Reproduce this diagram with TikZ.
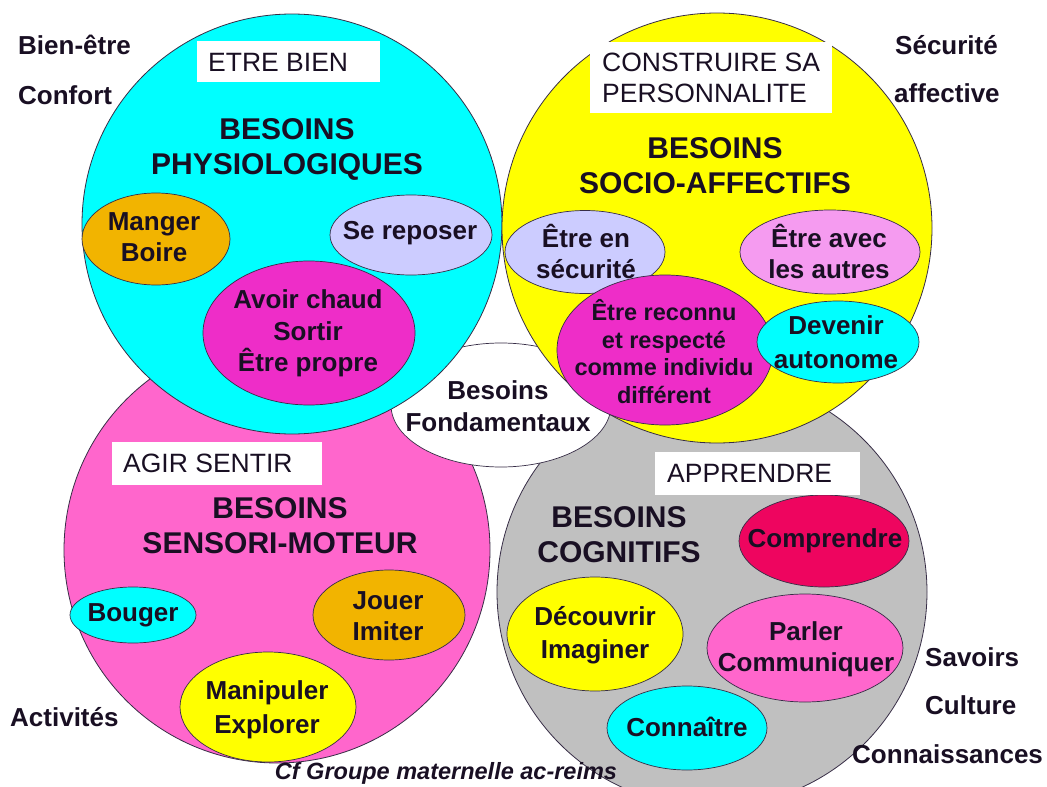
\documentclass[tikz,border=0pt]{standalone}
\usepackage{fontspec}
\setmainfont{Liberation Sans}
\usetikzlibrary{shapes.geometric}
\definecolor{cyanC}{RGB}{0,255,255}
\definecolor{yellowC}{RGB}{255,255,0}
\definecolor{pinkC}{RGB}{255,102,204}
\definecolor{grayC}{RGB}{192,192,192}
\definecolor{orangeC}{RGB}{242,180,0}
\definecolor{lavC}{RGB}{204,204,255}
\definecolor{magC}{RGB}{238,45,200}
\definecolor{orchidC}{RGB}{245,155,240}
\definecolor{crimC}{RGB}{238,5,95}
\definecolor{lineC}{RGB}{55,45,70}
\definecolor{textC}{RGB}{25,15,35}
\begin{document}
\begin{tikzpicture}[x=1pt,y=-1pt,
  bigc/.style={circle,draw=lineC,line width=0.8pt,inner sep=0pt},
  blob/.style={ellipse,draw=lineC,line width=0.7pt,inner sep=0pt},
  txt/.style={font=\bfseries\fontsize{26}{31}\selectfont,text=textC,align=center,inner sep=0pt},
  title/.style={font=\bfseries\fontsize{30}{35}\selectfont,text=textC,align=center,inner sep=0pt},
  tagbox/.style={fill=white,inner sep=0pt,anchor=north west},
  tagtxt/.style={font=\fontsize{26.5}{31}\selectfont,text=textC,align=left,anchor=west,inner sep=0pt},
  side/.style={font=\bfseries\fontsize{26}{31}\selectfont,text=textC,anchor=west,inner sep=0pt}
]
\useasboundingbox[fill=white] (0,0) rectangle (1047,787);

% lower circles
\node[bigc,fill=pinkC,minimum size=426pt] (senso) at (277,550) {};
\node[bigc,fill=grayC,minimum size=430pt] (cogn) at (712,592) {};

\node[blob,fill=cyanC,minimum width=126pt,minimum height=56pt] (bouger) at (133,615) {};
\node[blob,fill=orangeC,minimum width=152pt,minimum height=90pt] (jouer) at (389,615) {};
\node[blob,fill=yellowC,minimum width=176pt,minimum height=110pt] (manip) at (268,707) {};

\node[blob,fill=crimC,minimum width=170pt,minimum height=92pt] (compr) at (824,541) {};
\node[blob,fill=yellowC,minimum width=176pt,minimum height=114pt] (decou) at (595,634) {};
\node[blob,fill=pinkC,minimum width=196pt,minimum height=108pt] (parler) at (805,648) {};
\node[blob,fill=cyanC,minimum width=160pt,minimum height=84pt] (conn) at (687,728) {};

% centre
\node[blob,fill=white,minimum width=220pt,minimum height=124pt] (fond) at (501,405) {};

% upper circles
\node[bigc,fill=cyanC,minimum size=420pt] (phys) at (292,224) {};
\node[blob,fill=orangeC,minimum width=148pt,minimum height=92pt] (manger) at (156,239) {};
\node[blob,fill=lavC,minimum width=162pt,minimum height=80pt] (repos) at (411,235) {};
\node[blob,fill=magC,minimum width=212pt,minimum height=144pt] (avoir) at (309,333) {};

\node[bigc,fill=yellowC,minimum size=430pt] (socio) at (717,228) {};
\node[blob,fill=lavC,minimum width=160pt,minimum height=83pt] (secu) at (585,252) {};
\node[blob,fill=orchidC,minimum width=180pt,minimum height=84pt] (autres) at (830,252) {};
\node[blob,fill=magC,minimum width=216pt,minimum height=150pt] (reconnu) at (665,350) {};
\node[blob,fill=cyanC,minimum width=162pt,minimum height=82pt] (autonome) at (838,342) {};

% white tag boxes
\node[tagbox,minimum width=183pt,minimum height=41pt] (b1) at (197,41) {};
\node[tagbox,minimum width=242pt,minimum height=71pt] (b2) at (590,42) {};
\node[tagbox,minimum width=210pt,minimum height=43pt] (b3) at (112,442) {};
\node[tagbox,minimum width=205pt,minimum height=43pt] (b4) at (655,452) {};
\node[tagtxt] (t1) at (208,62) {ETRE BIEN};
\node[tagtxt] (t2) at (602,77.5) {CONSTRUIRE SA\\PERSONNALITE};
\node[tagtxt] (t3) at (123,463) {AGIR SENTIR};
\node[tagtxt] (t4) at (667,473) {APPRENDRE};

% titles
\node[title] (h1) at (287,149.5) {BESOINS\\PHYSIOLOGIQUES};
\node[title] (h2) at (715,165.5) {BESOINS\\SOCIO-AFFECTIFS};
\node[title] (h3) at (280,525.5) {BESOINS\\SENSORI-MOTEUR};
\node[title] (h4) at (619,534.5) {BESOINS\\COGNITIFS};

% inner texts
\node[txt] (x1) at (154,237.5) {Manger\\Boire};
\node[txt] (x2) at (410,233) {Se reposer};
\node[txt,font=\bfseries\fontsize{26}{31.5}\selectfont] (x3) at (308,333.5) {Avoir chaud\\Sortir\\Être propre};
\node[txt] (x4) at (586,251) {Être en\\sécurité};
\node[txt] (x5) at (829,251) {Être avec\\les autres};
\node[txt,font=\bfseries\fontsize{23.5}{27.8}\selectfont] (x6) at (664,351.5) {Être reconnu\\et respecté\\comme individu\\différent};
\node[txt,font=\bfseries\fontsize{26}{34}\selectfont] (x7) at (836,342.5) {Devenir\\autonome};
\node[txt] (x8) at (133,615) {Bouger};
\node[txt] (x9) at (388,616) {Jouer\\Imiter};
\node[txt,font=\bfseries\fontsize{26}{34}\selectfont] (x10) at (267,710) {Manipuler\\Explorer};
\node[txt] (x11) at (825,541) {Comprendre};
\node[txt,font=\bfseries\fontsize{26}{33}\selectfont] (x12) at (595,635.5) {Découvrir\\Imaginer};
\node[txt] (x13) at (806,649.5) {Parler\\Communiquer};
\node[txt] (x14) at (687,727) {Connaître};
\node[txt,font=\bfseries\fontsize{26}{32}\selectfont] (x15) at (498,406) {Besoins\\Fondamentaux};

% side labels
\node[side] (s1) at (18,45) {Bien-être};
\node[side] (s2) at (18,95) {Confort};
\node[side] (s3) at (895,45) {Sécurité};
\node[side] (s4) at (894,93) {affective};
\node[side] (s5) at (10,717) {Activités};
\node[side] (s6) at (925,657) {Savoirs};
\node[side] (s7) at (925,705) {Culture};
\node[side] (s8) at (852,754) {Connaissances};

\node[font=\bfseries\itshape\fontsize{23.5}{28}\selectfont,text=textC,inner sep=0pt] (cite) at (446,773) {Cf Groupe maternelle ac-reims};
\end{tikzpicture}
\end{document}
